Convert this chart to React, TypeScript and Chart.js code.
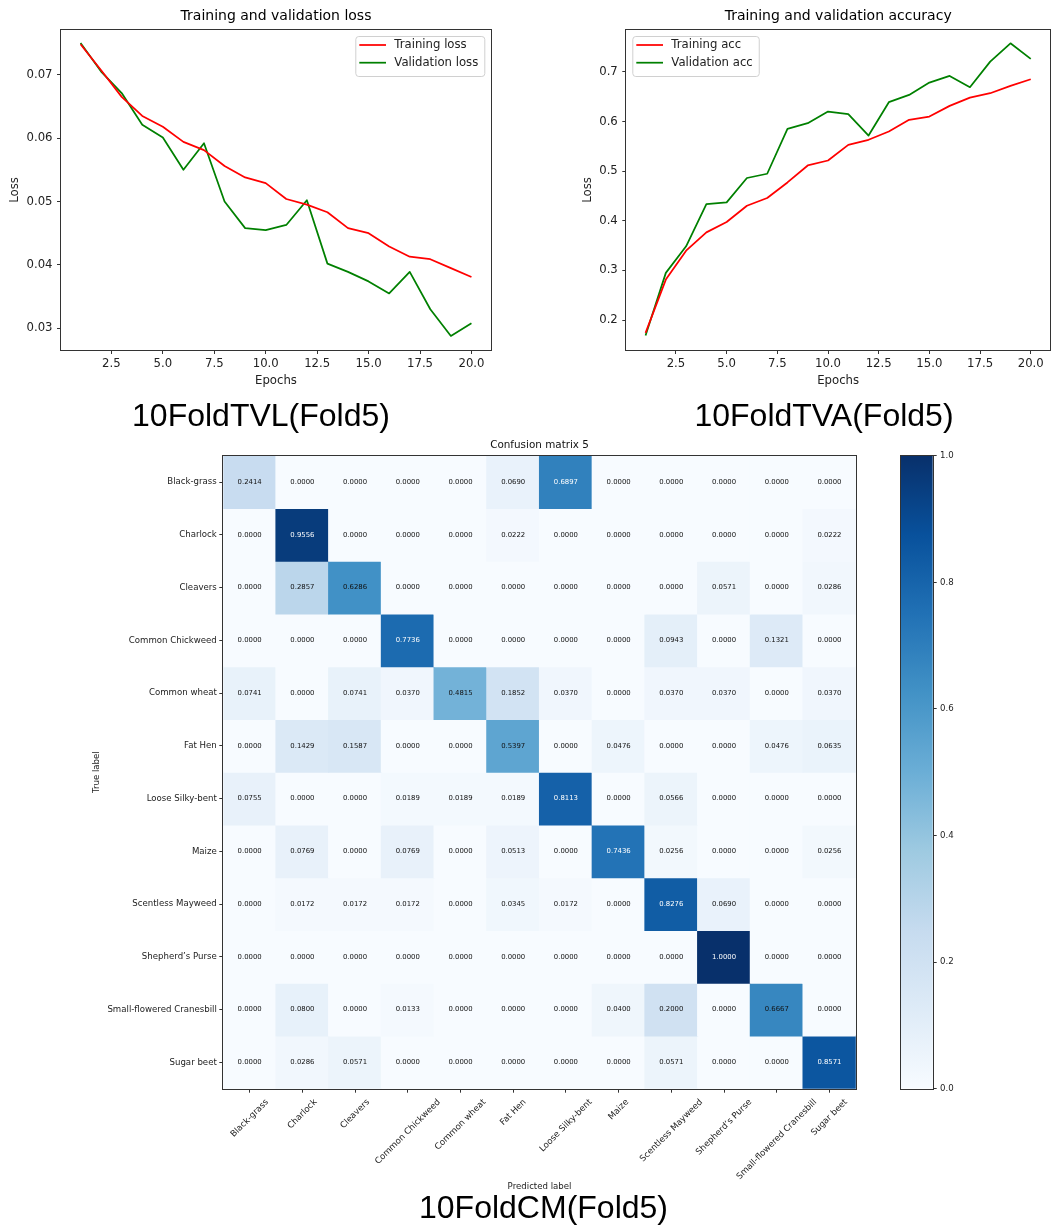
import React, { useEffect, useRef } from "react";
import { Chart, registerables } from "chart.js";

Chart.register(...registerables);

// ---------------- data ----------------
const epochs = [1, 2, 3, 4, 5, 6, 7, 8, 9, 10, 11, 12, 13, 14, 15, 16, 17, 18, 19, 20];

const trainingLoss = [0.0748, 0.0707, 0.0665, 0.0635, 0.0618, 0.0594, 0.0581, 0.0556, 0.0538, 0.0529,
  0.0504, 0.0495, 0.0483, 0.0458, 0.0450, 0.0429, 0.0413, 0.0409, 0.0395, 0.0381];
const validationLoss = [0.0750, 0.0705, 0.0671, 0.0621, 0.0601, 0.0550, 0.0592, 0.0500, 0.0458, 0.0455,
  0.0463, 0.0502, 0.0402, 0.0389, 0.0374, 0.0355, 0.0389, 0.0330, 0.0288, 0.0308];

const trainingAcc = [0.1740, 0.2815, 0.3398, 0.3767, 0.3976, 0.4304, 0.4459, 0.4773, 0.5115, 0.5215,
  0.5531, 0.5632, 0.5799, 0.6034, 0.6101, 0.6316, 0.6483, 0.6571, 0.6718, 0.6853];
const validationAcc = [0.1688, 0.2950, 0.3485, 0.4338, 0.4371, 0.4862, 0.4948, 0.5853, 0.5968, 0.6202,
  0.6149, 0.5718, 0.6390, 0.6537, 0.6785, 0.6920, 0.6692, 0.7207, 0.7577, 0.7262];

const epochTicks = [2.5, 5.0, 7.5, 10.0, 12.5, 15.0, 17.5, 20.0];
const lossTicks = [0.03, 0.04, 0.05, 0.06, 0.07];
const accTicks = [0.2, 0.3, 0.4, 0.5, 0.6, 0.7];
const colorbarTicks = [0.0, 0.2, 0.4, 0.6, 0.8, 1.0];

const epochRange = [0.05, 20.95];
const lossRange = [0.02658, 0.07705];
const accRange = [0.1396, 0.7845];

const classLabels = [
  "Black-grass", "Charlock", "Cleavers", "Common Chickweed", "Common wheat", "Fat Hen",
  "Loose Silky-bent", "Maize", "Scentless Mayweed", "Shepherd\u2019s Purse",
  "Small-flowered Cranesbill", "Sugar beet",
];

const confusion = [
  [0.2414, 0.0000, 0.0000, 0.0000, 0.0000, 0.0690, 0.6897, 0.0000, 0.0000, 0.0000, 0.0000, 0.0000],
  [0.0000, 0.9556, 0.0000, 0.0000, 0.0000, 0.0222, 0.0000, 0.0000, 0.0000, 0.0000, 0.0000, 0.0222],
  [0.0000, 0.2857, 0.6286, 0.0000, 0.0000, 0.0000, 0.0000, 0.0000, 0.0000, 0.0571, 0.0000, 0.0286],
  [0.0000, 0.0000, 0.0000, 0.7736, 0.0000, 0.0000, 0.0000, 0.0000, 0.0943, 0.0000, 0.1321, 0.0000],
  [0.0741, 0.0000, 0.0741, 0.0370, 0.4815, 0.1852, 0.0370, 0.0000, 0.0370, 0.0370, 0.0000, 0.0370],
  [0.0000, 0.1429, 0.1587, 0.0000, 0.0000, 0.5397, 0.0000, 0.0476, 0.0000, 0.0000, 0.0476, 0.0635],
  [0.0755, 0.0000, 0.0000, 0.0189, 0.0189, 0.0189, 0.8113, 0.0000, 0.0566, 0.0000, 0.0000, 0.0000],
  [0.0000, 0.0769, 0.0000, 0.0769, 0.0000, 0.0513, 0.0000, 0.7436, 0.0256, 0.0000, 0.0000, 0.0256],
  [0.0000, 0.0172, 0.0172, 0.0172, 0.0000, 0.0345, 0.0172, 0.0000, 0.8276, 0.0690, 0.0000, 0.0000],
  [0.0000, 0.0000, 0.0000, 0.0000, 0.0000, 0.0000, 0.0000, 0.0000, 0.0000, 1.0000, 0.0000, 0.0000],
  [0.0000, 0.0800, 0.0000, 0.0133, 0.0000, 0.0000, 0.0000, 0.0400, 0.2000, 0.0000, 0.6667, 0.0000],
  [0.0000, 0.0286, 0.0571, 0.0000, 0.0000, 0.0000, 0.0000, 0.0000, 0.0571, 0.0000, 0.0000, 0.8571],
];

const textThreshold = 0.67;

// matplotlib "Blues"
const bluesStops = ["#f7fbff", "#deebf7", "#c6dbef", "#9ecae1", "#6baed6", "#4292c6", "#2171b5", "#08519c", "#08306b"];

// ---------------- helpers ----------------
const FONT = "'DejaVu Sans', sans-serif";
const CAP_FONT = "'Liberation Sans', Arial, sans-serif";
const TICK_COLOR = "#222";
const SPINE_COLOR = "#333";

Chart.defaults.font.family = FONT;
Chart.defaults.color = TICK_COLOR;

function hexToRgb(h: string) {
  const n = parseInt(h.slice(1), 16);
  return [(n >> 16) & 255, (n >> 8) & 255, n & 255];
}
const bluesRgb = bluesStops.map(hexToRgb);
function blues(v: number) {
  const t = Math.min(1, Math.max(0, v)) * (bluesRgb.length - 1);
  const i = Math.min(bluesRgb.length - 2, Math.floor(t));
  const f = t - i;
  const a = bluesRgb[i], b = bluesRgb[i + 1];
  const c = a.map((x, k) => Math.round(x + (b[k] - x) * f));
  return `rgb(${c[0]},${c[1]},${c[2]})`;
}

const frameBox = {
  id: "frameBox",
  afterDraw(chart: any) {
    const { ctx, chartArea: a } = chart;
    ctx.save();
    ctx.strokeStyle = SPINE_COLOR;
    ctx.lineWidth = 1;
    const l = Math.round(a.left) - 0.5, t = Math.round(a.top) - 0.5;
    const r = Math.round(a.right) + 0.5, b = Math.round(a.bottom) + 0.5;
    ctx.strokeRect(l, t, r - l, b - t);
    ctx.restore();
  },
};

const mplLegend = {
  id: "mplLegend",
  afterDraw(chart: any, _args: any, opts: any) {
    if (!opts || !opts.corner) return;
    const { ctx, chartArea: a } = chart;
    ctx.save();
    ctx.font = `11.7px ${FONT}`;
    const items = chart.data.datasets.map((d: any) => ({ label: d.label, color: d.borderColor }));
    const textW = Math.max(...items.map((it: any) => ctx.measureText(it.label).width));
    const w = 4 + 26.7 + 8.3 + textW + 6;
    const h = 40;
    const x0 = opts.corner === "right" ? a.right - 6.7 - w : a.left + 6;
    const y0 = a.top + 6;
    ctx.beginPath();
    ctx.roundRect(x0 + 0.5, y0 + 0.5, w, h, 3);
    ctx.fillStyle = "rgba(255,255,255,0.8)";
    ctx.fill();
    ctx.strokeStyle = "#d0d0d0";
    ctx.lineWidth = 1;
    ctx.stroke();
    items.forEach((it: any, i: number) => {
      const cy = y0 + 9 + i * 17.7;
      ctx.beginPath();
      ctx.moveTo(x0 + 4, cy);
      ctx.lineTo(x0 + 30.7, cy);
      ctx.strokeStyle = it.color;
      ctx.lineWidth = 1.75;
      ctx.stroke();
      ctx.fillStyle = "#222";
      ctx.textAlign = "left";
      ctx.textBaseline = "middle";
      ctx.fillText(it.label, x0 + 39, cy);
    });
    ctx.restore();
  },
};

const cellText = {
  id: "cellText",
  afterDatasetsDraw(chart: any, _args: any, opts: any) {
    if (!opts || !opts.values) return;
    const { ctx } = chart;
    ctx.save();
    ctx.font = `6.9px ${FONT}`;
    ctx.textAlign = "center";
    ctx.textBaseline = "middle";
    opts.values.forEach((row: number[], r: number) => {
      const meta = chart.getDatasetMeta(r);
      row.forEach((v: number, c: number) => {
        const el = meta.data[c];
        if (!el) return;
        ctx.fillStyle = v > textThreshold ? "#ffffff" : "#111111";
        ctx.fillText(v.toFixed(4), el.x, (el.y + el.base) / 2);
      });
    });
    ctx.restore();
  },
};

const cmXLabels = {
  id: "cmXLabels",
  afterDraw(chart: any, _args: any, opts: any) {
    if (!opts || !opts.labels) return;
    const { ctx, chartArea: a } = chart;
    const xs = chart.scales.x;
    const k = Math.SQRT1_2;
    ctx.save();
    ctx.font = `${opts.size}px ${FONT}`;
    ctx.fillStyle = TICK_COLOR;
    ctx.textAlign = "right";
    ctx.textBaseline = "middle";
    opts.labels.forEach((lab: string, i: number) => {
      const w = ctx.measureText(lab).width;
      const x = xs.getPixelForTick(i) + 0.5 * k * w;
      const y = a.bottom + opts.offset + 0.5 * k * opts.size;
      ctx.save();
      ctx.translate(x, y);
      ctx.rotate(-Math.PI / 4);
      ctx.fillText(lab, 0, 0);
      ctx.restore();
    });
    ctx.restore();
  },
};

function tickGrid() {
  return {
    display: true,
    drawOnChartArea: false,
    drawTicks: true,
    tickLength: 4,
    tickColor: SPINE_COLOR,
    tickWidth: 1,
  };
}

function lineConfig(p: any) {
  const mk = (label: string, vals: number[], color: string) => ({
    label,
    data: epochs.map((e, i) => ({ x: e, y: vals[i] })),
    borderColor: color,
    backgroundColor: color,
    borderWidth: 1.75,
    pointRadius: 0,
    tension: 0,
    borderJoinStyle: "round",
    fill: false,
  });
  const tickFont = { family: FONT, size: 11.7 };
  return {
    type: "line",
    data: {
      datasets: [mk(p.trainLabel, p.train, "#ff0000"), mk(p.valLabel, p.val, "#008000")],
    },
    options: {
      responsive: false,
      animation: false,
      events: [],
      layout: { padding: { left: 0, right: p.padRight, top: 0, bottom: 0 } },
      plugins: {
        legend: { display: false },
        tooltip: { enabled: false },
        title: {
          display: true,
          text: p.title,
          fullSize: false,
          color: "#000",
          font: { family: FONT, size: 14, weight: "normal" },
          padding: { top: 8, bottom: 5.2 },
        },
        mplLegend: { corner: p.legendCorner },
      },
      scales: {
        x: {
          type: "linear",
          min: epochRange[0],
          max: epochRange[1],
          afterBuildTicks: (s: any) => { s.ticks = epochTicks.map((v) => ({ value: v })); },
          afterFit: (s: any) => { s.height = 50; },
          ticks: {
            autoSkip: false,
            maxRotation: 0,
            padding: 3,
            font: tickFont,
            color: TICK_COLOR,
            callback: (v: any) => Number(v).toFixed(1),
          },
          grid: tickGrid(),
          border: { display: false },
          title: {
            display: true,
            text: "Epochs",
            color: TICK_COLOR,
            font: tickFont,
            padding: { top: 0, bottom: 12.3 },
          },
        },
        y: {
          type: "linear",
          min: p.range[0],
          max: p.range[1],
          afterBuildTicks: (s: any) => { s.ticks = p.ticks.map((v: number) => ({ value: v })); },
          afterFit: (s: any) => { s.width = p.yWidth; },
          ticks: {
            autoSkip: false,
            padding: 4.5,
            font: tickFont,
            color: TICK_COLOR,
            callback: (v: any) => Number(v).toFixed(p.decimals),
          },
          grid: tickGrid(),
          border: { display: false },
          title: {
            display: true,
            text: "Loss",
            color: TICK_COLOR,
            font: tickFont,
            padding: { top: p.yTitlePad, bottom: 0 },
          },
        },
      },
    },
    plugins: [frameBox, mplLegend],
  };
}

function cmConfig() {
  const f = { family: FONT, size: 8.6 };
  return {
    type: "bar",
    data: {
      labels: classLabels,
      datasets: confusion.map((row, r) => ({
        label: classLabels[r],
        data: row.map(() => [r - 0.5, r + 0.5]),
        backgroundColor: row.map((v) => blues(v)),
        borderWidth: 0,
        barPercentage: 1,
        categoryPercentage: 1,
        grouped: false,
        inflateAmount: 0.6,
      })),
    },
    options: {
      responsive: false,
      animation: false,
      events: [],
      layout: { padding: { left: 0, right: 24.2, top: 0, bottom: 0 } },
      plugins: {
        legend: { display: false },
        tooltip: { enabled: false },
        title: {
          display: true,
          text: "Confusion matrix 5",
          fullSize: false,
          color: "#111",
          font: { family: FONT, size: 10.4, weight: "normal" },
          padding: { top: 4.5, bottom: 3.72 },
        },
        cellText: { values: confusion },
        cmXLabels: { labels: classLabels, size: 8.6, offset: 9 },
      },
      scales: {
        x: {
          type: "category",
          offset: true,
          afterFit: (s: any) => { s.height = 116.3; },
          ticks: { display: false },
          grid: { ...tickGrid(), offset: false },
          border: { display: false },
          title: {
            display: true,
            text: "Predicted label",
            color: TICK_COLOR,
            font: f,
            padding: { top: 0, bottom: 12.9 },
          },
        },
        y: {
          type: "linear",
          min: -0.5,
          max: 11.5,
          reverse: true,
          afterBuildTicks: (s: any) => { s.ticks = classLabels.map((_, i) => ({ value: i })); },
          afterFit: (s: any) => { s.width = 223.3; },
          ticks: {
            autoSkip: false,
            padding: 2.5,
            font: f,
            color: TICK_COLOR,
            callback: (v: any) => classLabels[Math.round(Number(v))],
          },
          grid: tickGrid(),
          border: { display: false },
          title: {
            display: true,
            text: "True label",
            color: TICK_COLOR,
            font: f,
            padding: { top: 91.6, bottom: 0 },
          },
        },
      },
    },
    plugins: [cellText, frameBox, cmXLabels],
  };
}

function colorbarConfig() {
  const f = { family: FONT, size: 8.6 };
  return {
    type: "bar",
    data: {
      labels: [""],
      datasets: [
        {
          data: [[0, 1]],
          backgroundColor: (c: any) => {
            const ch = c.chart;
            const ys = ch.scales && ch.scales.y;
            if (!ch.chartArea || !ys) return bluesStops[bluesStops.length - 1];
            const g = ch.ctx.createLinearGradient(0, ys.getPixelForValue(0), 0, ys.getPixelForValue(1));
            bluesStops.forEach((col, i) => g.addColorStop(i / (bluesStops.length - 1), col));
            return g;
          },
          borderWidth: 0,
          barPercentage: 1,
          categoryPercentage: 1,
        },
      ],
    },
    options: {
      responsive: false,
      animation: false,
      events: [],
      layout: { padding: { left: 20.7, right: 0, top: 20.7, bottom: 26.3 } },
      plugins: { legend: { display: false }, tooltip: { enabled: false } },
      scales: {
        x: { display: false },
        y: {
          type: "linear",
          position: "right",
          min: 0,
          max: 1,
          afterBuildTicks: (s: any) => { s.ticks = colorbarTicks.map((v) => ({ value: v })); },
          afterFit: (s: any) => { s.width = 47.3; },
          ticks: {
            autoSkip: false,
            padding: 3.3,
            font: f,
            color: TICK_COLOR,
            callback: (v: any) => Number(v).toFixed(1),
          },
          grid: tickGrid(),
          border: { display: false },
        },
      },
    },
    plugins: [frameBox],
  };
}

const capStyle = (cx: number, top: number): React.CSSProperties => ({
  position: "absolute",
  left: cx - 200,
  top,
  width: 400,
  textAlign: "center",
  fontFamily: CAP_FONT,
  fontSize: 32,
  lineHeight: "32px",
  color: "#000",
  whiteSpace: "nowrap",
});

export default function App() {
  const lossRef = useRef<HTMLCanvasElement>(null);
  const accRef = useRef<HTMLCanvasElement>(null);
  const cmRef = useRef<HTMLCanvasElement>(null);
  const cbRef = useRef<HTMLCanvasElement>(null);

  useEffect(() => {
    const charts: Chart[] = [];
    charts.push(
      new Chart(lossRef.current as any, lineConfig({
        title: "Training and validation loss",
        trainLabel: "Training loss",
        valLabel: "Validation loss",
        train: trainingLoss,
        val: validationLoss,
        range: lossRange,
        ticks: lossTicks,
        decimals: 2,
        yWidth: 61,
        padRight: 39,
        yTitlePad: 8,
        legendCorner: "right",
      }) as any)
    );
    charts.push(
      new Chart(accRef.current as any, lineConfig({
        title: "Training and validation accuracy",
        trainLabel: "Training acc",
        valLabel: "Validation acc",
        train: trainingAcc,
        val: validationAcc,
        range: accRange,
        ticks: accTicks,
        decimals: 1,
        yWidth: 96.3,
        padRight: 10,
        yTitlePad: 50.5,
        legendCorner: "left",
      }) as any)
    );
    charts.push(new Chart(cmRef.current as any, cmConfig() as any));
    charts.push(new Chart(cbRef.current as any, colorbarConfig() as any));
    return () => charts.forEach((c) => c.destroy());
  }, []);

  return (
    <div style={{ position: "absolute", left: 0, top: 0, width: 1060, height: 1229, background: "#fff", overflow: "hidden" }}>
      <canvas ref={lossRef} width={530} height={400} style={{ position: "absolute", left: 0, top: 0 }} />
      <canvas ref={accRef} width={530} height={400} style={{ position: "absolute", left: 530, top: 0 }} />
      <canvas ref={cmRef} width={880} height={770} style={{ position: "absolute", left: 0, top: 435 }} />
      <canvas ref={cbRef} width={100} height={680} style={{ position: "absolute", left: 880, top: 435 }} />
      <div style={capStyle(261, 399)}>10FoldTVL(Fold5)</div>
      <div style={capStyle(824, 399)}>10FoldTVA(Fold5)</div>
      <div style={capStyle(543.5, 1191)}>10FoldCM(Fold5)</div>
    </div>
  );
}
